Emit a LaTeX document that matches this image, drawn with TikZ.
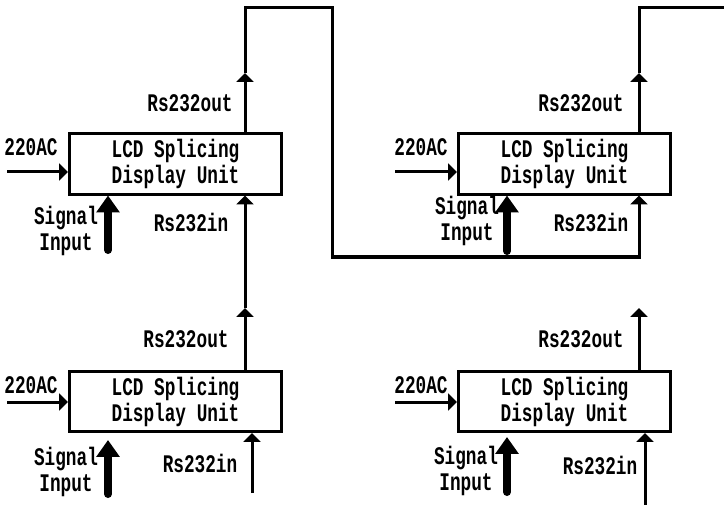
\documentclass[tikz,border=0pt]{standalone}
\usepackage{fontspec}
\newfontfamily\unitfont{Liberation Mono}[FakeStretch=0.7]
\usetikzlibrary{arrows.meta, positioning}
\tikzset{
    splice/.style={font=\unitfont\bfseries\fontsize{18pt}{18.5pt}\selectfont},
    splice box/.style={draw, line width=0.075cm, align=center, inner sep=0pt,
        minimum width=5.3cm, minimum height=1.5cm},
    splice wire/.style={line width=0.075cm},
    splice arrow/.style={splice wire, -{Triangle[width=0.42cm, length=0.22cm]}},
    signal arrow/.style={line width=0.2cm, line cap=round,
        -{Triangle[width=0.56cm, length=0.42cm]}},
    splice label/.style={align=center, inner sep=0pt},
}

\begin{document}
\begin{tikzpicture}[splice, x=0.025cm, y=-0.025cm]
            \useasboundingbox (0,0) rectangle (724,505);
            \node[splice box] (lcdA) at (175.5,164) {LCD Splicing\\Display Unit};
            \node[splice box] (lcdB) at (564.5,164) {LCD Splicing\\Display Unit};
            \node[splice box] (lcdC) at (175.5,401.5) {LCD Splicing\\Display Unit};
            \node[splice box] (lcdD) at (564.5,401.5) {LCD Splicing\\Display Unit};
            % power inputs
            \coordinate (pwrA) at (7,172);
            \coordinate (pwrB) at (395,172);
            \coordinate (pwrC) at (7,402);
            \coordinate (pwrD) at (395,402);
            \draw[splice arrow] (pwrA) -- (pwrA -| lcdA.west);
            \draw[splice arrow] (pwrB) -- (pwrB -| lcdB.west);
            \draw[splice arrow] (pwrC) -- (pwrC -| lcdC.west);
            \draw[splice arrow] (pwrD) -- (pwrD -| lcdD.west);
            \node[splice label] (acA) at (31,147) {220AC};
            \node[splice label] (acB) at (421,147) {220AC};
            \node[splice label] (acC) at (31,385) {220AC};
            \node[splice label] (acD) at (421,385) {220AC};
            % signal inputs
            \coordinate (sigA) at (108,250);
            \coordinate (sigB) at (507,251);
            \coordinate (sigC) at (108,494);
            \coordinate (sigD) at (507,492);
            \draw[signal arrow] (sigA) -- (sigA |- lcdA.south);
            \draw[signal arrow] (sigB) -- (sigB |- lcdB.south);
            \draw[signal arrow] (sigC) -- (108,440);
            \draw[signal arrow] (sigD) -- (507,437);
            \node[splice label] (sigtxtA) at (66,231) {Signal\\Input};
            \node[splice label] (sigtxtB) at (467,221) {Signal\\Input};
            \node[splice label] (sigtxtC) at (66,472) {Signal\\Input};
            \node[splice label] (sigtxtD) at (466,471) {Signal\\Input};
            % rs232 chain
            \coordinate (outA) at (245,73);
            \coordinate (outB) at (639,73);
            \coordinate (outC) at (245,308);
            \coordinate (outD) at (639,308);
            \coordinate (topA) at (332,8);
            \coordinate (lowA) at (332,257);
            \coordinate (edgeB) at (724,8);
            \coordinate (inC) at (252,493);
            \coordinate (inD) at (645,505);
            \draw[splice arrow] (outA |- lcdA.north) -- (outA);
            \draw[splice arrow] (outA) |- (topA) -- (lowA) -| (outB |- lcdB.south);
            \draw[splice arrow] (outB |- lcdB.north) -- (outB);
            \draw[splice wire] (outB) |- (edgeB);
            \draw[splice arrow] (outC |- lcdC.north) -- (outC);
            \draw[splice arrow] (outC) -- (outC |- lcdA.south);
            \draw[splice arrow] (outD |- lcdD.north) -- (outD);
            \draw[splice arrow] (inC) -- (inC |- lcdC.south);
            \draw[splice arrow] (inD) -- (inD |- lcdD.south);
            \node[splice label] (rsoutA) at (190,103) {Rs232out};
            \node[splice label] (rsoutB) at (581,103) {Rs232out};
            \node[splice label] (rsoutC) at (186,339) {Rs232out};
            \node[splice label] (rsoutD) at (581,339) {Rs232out};
            \node[splice label] (rsinA) at (191,222) {Rs232in};
            \node[splice label] (rsinB) at (591,222) {Rs232in};
            \node[splice label] (rsinC) at (200,463) {Rs232in};
            \node[splice label] (rsinD) at (600,465) {Rs232in};
        \end{tikzpicture}
\end{document}
